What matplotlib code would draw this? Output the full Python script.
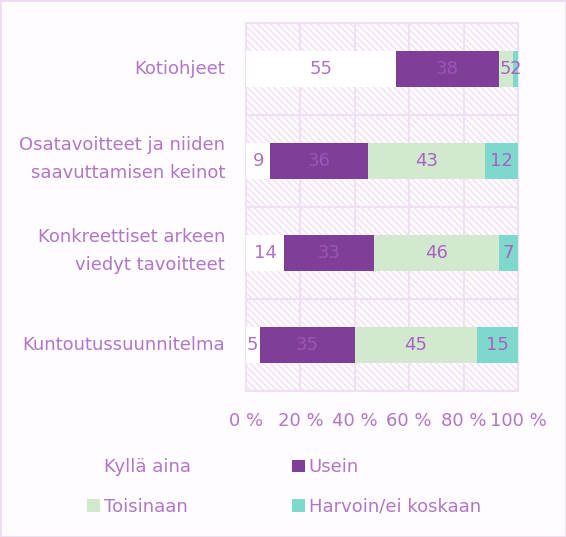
import numpy as np
import matplotlib.pyplot as plt
from matplotlib.patches import Patch, Rectangle

plt.rcParams['font.family'] = ['DejaVu Sans']
plt.rcParams['hatch.color'] = '#e8d3f1'
plt.rcParams['hatch.linewidth'] = 1.0

categories = ['Kotiohjeet',
              'Osatavoitteet ja niiden\nsaavuttamisen keinot',
              'Konkreettiset arkeen\nviedyt tavoitteet',
              'Kuntoutussuunnitelma']
series = ['Kyllä aina', 'Usein', 'Toisinaan', 'Harvoin/ei koskaan']
values = [
    [55, 9, 14, 5],
    [38, 36, 33, 35],
    [5, 43, 46, 45],
    [2, 12, 7, 15],
]
colors = ['#ffffff', '#7f3f98', '#d3e9cf', '#7fd8cc']
txt_colors = ['#b070c8', '#9d55b8', '#a862c2', '#a862c2']
xticks = [0, 20, 40, 60, 80, 100]
xlabels = ['0 %', '20 %', '40 %', '60 %', '80 %', '100 %']

text_col = '#b276c8'
grid_col = '#efe0f3'
fs = 13

fig = plt.figure(figsize=(5.66, 5.37), dpi=100)
fig.patch.set_facecolor('#fefcfe')
ax = fig.add_axes([246 / 566, 1 - 391 / 537, 272 / 566, 368 / 537])
ax.set_facecolor('#fefcfe')

# hatched background
ax.add_patch(Rectangle((0, -0.5), 100, 4, transform=ax.transData,
                       facecolor='none', edgecolor=grid_col, hatch='\\\\\\\\\\',
                       linewidth=0, zorder=0))

y = np.arange(len(categories))
left = np.zeros(len(categories))
for i, s in enumerate(series):
    v = np.array(values[i], dtype=float)
    ax.barh(y, v, left=left, height=0.4, color=colors[i], zorder=3)
    for j in range(len(categories)):
        ax.text(left[j] + v[j] / 2, y[j], str(values[i][j]), ha='center', va='center',
                color=txt_colors[i], fontsize=fs, zorder=4)
    left += v

# category labels
for j, cat in enumerate(categories):
    dy = 2 if '\n' in cat else 0
    ax.annotate(cat, (0, y[j]), xytext=(-21, dy), textcoords='offset pixels',
                ha='right', va='center', color=text_col, fontsize=fs,
                linespacing=1.7, annotation_clip=False)

ax.set_xlim(0, 100)
ax.set_ylim(len(categories) - 0.5, -0.5)
ax.set_xticks(xticks)
ax.set_xticklabels(xlabels)
ax.set_yticks(np.arange(-0.5, len(categories)))
ax.set_yticklabels([])
ax.tick_params(axis='both', which='both', length=0, colors=text_col, labelsize=fs)
ax.tick_params(axis='x', pad=15)
ax.grid(True, color=grid_col, linewidth=1.5, zorder=1)
ax.set_axisbelow(True)
for sp in ax.spines.values():
    sp.set_color(grid_col)
    sp.set_linewidth(1.5)

handles = [Patch(facecolor='#fefcfe'), Patch(facecolor=colors[2]),
           Patch(facecolor=colors[1]), Patch(facecolor=colors[3])]
labels = [series[0], series[2], series[1], series[3]]
leg = fig.legend(handles, labels, ncol=2, loc='upper left',
                 bbox_to_anchor=(71 / 566, 1 - 442 / 537), frameon=False,
                 fontsize=fs, handlelength=0.72, handleheight=0.72, handletextpad=0.2,
                 columnspacing=5.6, labelspacing=1.2)
for t in leg.get_texts():
    t.set_color(text_col)

fig.patches.append(Rectangle((0, 0), 1, 1, transform=fig.transFigure, fill=False,
                             edgecolor='#eedcf4', linewidth=2))

fig.savefig('out.png', dpi=100, facecolor=fig.get_facecolor())
